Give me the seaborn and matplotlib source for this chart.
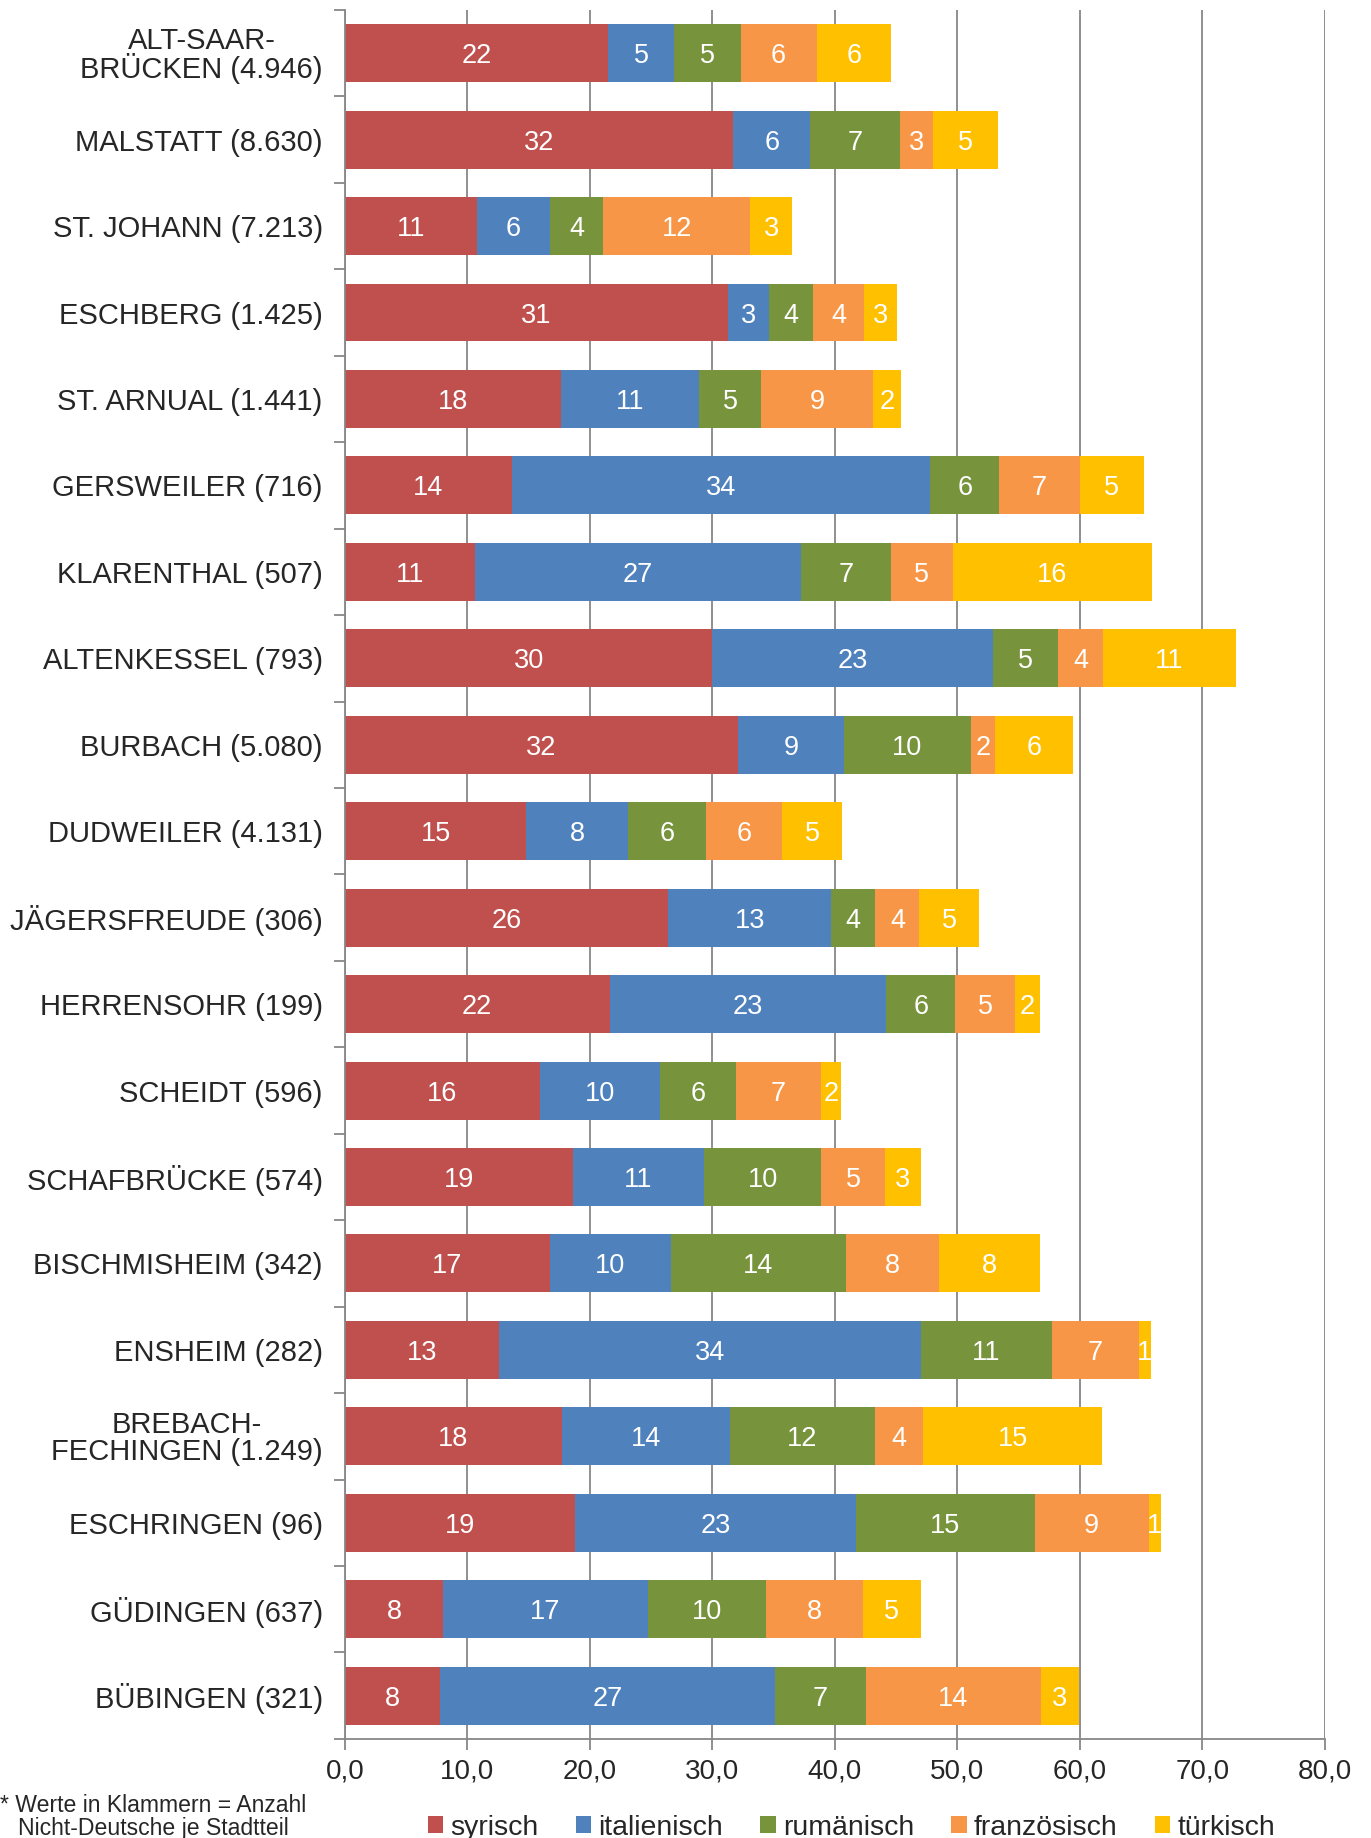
import numpy as np
import pandas as pd
import matplotlib
matplotlib.use("Agg")
import matplotlib.pyplot as plt
from matplotlib.patches import Patch
import seaborn as sns

districts = ["ALT-SAAR-\nBRÜCKEN (4.946)", "MALSTATT (8.630)", "ST. JOHANN (7.213)",
             "ESCHBERG (1.425)", "ST. ARNUAL (1.441)", "GERSWEILER (716)",
             "KLARENTHAL (507)", "ALTENKESSEL (793)", "BURBACH (5.080)",
             "DUDWEILER (4.131)", "JÄGERSFREUDE (306)", "HERRENSOHR (199)",
             "SCHEIDT (596)", "SCHAFBRÜCKE (574)", "BISCHMISHEIM (342)",
             "ENSHEIM (282)", "BREBACH-\nFECHINGEN (1.249)", "ESCHRINGEN (96)",
             "GÜDINGEN (637)", "BÜBINGEN (321)"]

syrisch = [21.5, 31.7, 10.8, 31.3, 17.6, 13.6, 10.6, 30.0, 32.1, 14.8,
           26.4, 21.6, 15.9, 18.6, 16.7, 12.6, 17.7, 18.8, 8.0, 7.8]
italienisch = [5.4, 6.3, 5.9, 3.3, 11.3, 34.2, 26.6, 22.9, 8.6, 8.3,
               13.3, 22.6, 9.8, 10.7, 9.9, 34.4, 13.7, 22.9, 16.7, 27.3]
rumaenisch = [5.4, 7.3, 4.4, 3.6, 5.1, 5.6, 7.4, 5.3, 10.4, 6.4,
              3.6, 5.6, 6.2, 9.6, 14.3, 10.7, 11.9, 14.6, 9.7, 7.4]
franzoesisch = [6.2, 2.7, 12.0, 4.2, 9.1, 6.6, 5.0, 3.7, 2.0, 6.2,
                3.6, 4.9, 7.0, 5.2, 7.6, 7.1, 3.9, 9.3, 7.9, 14.3]
tuerkisch = [6.1, 5.3, 3.4, 2.7, 2.3, 5.2, 16.3, 10.8, 6.3, 4.9,
             4.9, 2.0, 1.6, 2.9, 8.2, 1.0, 14.6, 1.0, 4.7, 3.1]

series_names = ["syrisch", "italienisch", "rumänisch", "französisch", "türkisch"]
colors = ["#C0504D", "#4F81BD", "#77933C", "#F79646", "#FFC000"]

df = pd.DataFrame({"district": districts, "syrisch": syrisch, "italienisch": italienisch,
                   "rumänisch": rumaenisch, "französisch": franzoesisch, "türkisch": tuerkisch})
cum = df[series_names].cumsum(axis=1)

sns.set_style("white")
plt.rcParams["font.family"] = ["Liberation Sans", "DejaVu Sans"]

fig = plt.figure(figsize=(13.71, 18.38), dpi=100)
ax = fig.add_axes([0.2516, 0.0539, 0.7148, 0.9407])

# stacked bars: draw cumulative totals from the last series backwards
for name, col in reversed(list(zip(series_names, colors))):
    sns.barplot(x=cum[name], y=df["district"], color=col, orient="h", width=0.67,
                saturation=1, ax=ax, linewidth=0)

# segment labels
for i in range(len(df)):
    left = 0
    for name in series_names:
        v = df[name][i]
        ax.text(left + v / 2, i, "%.0f" % v, ha="center", va="center_baseline",
                color="white", fontsize=19.5)
        left += v

ax.set_xlim(0, 80)
ax.set_ylim(len(df) - 0.5, -0.5)
ax.set_xticks(np.arange(0, 81, 10))
ax.set_xticklabels(["%d,0" % t for t in range(0, 81, 10)], fontsize=20)
ax.set_xlabel("")
ax.set_ylabel("")
ax.set_yticks(range(len(df)))
ax.set_yticklabels(districts, fontsize=21, ma="center", linespacing=0.95)
ax.set_yticks(np.arange(-0.5, len(df), 1), minor=True)
ax.tick_params(axis="y", which="major", length=0, pad=16)
ax.tick_params(axis="y", which="minor", length=8, width=1.3, color="#878787", left=True)
ax.tick_params(axis="x", length=8, width=1.3, color="#878787", bottom=True, pad=6)

ax.grid(axis="x", color="#878787", linewidth=1.3)
ax.set_axisbelow(True)
for s in ["top", "right"]:
    ax.spines[s].set_visible(False)
for s in ["left", "bottom"]:
    ax.spines[s].set_color("#878787")
    ax.spines[s].set_linewidth(1.3)

handles = [Patch(facecolor=c, edgecolor="none") for c in colors]
fig.legend(handles, series_names, loc="center", bbox_to_anchor=(0.621, 0.0055),
           ncol=5, frameon=False, fontsize=20.5, handlelength=0.55, handleheight=0.55,
           handletextpad=0.25, columnspacing=1.3, borderpad=0)

fig.text(0.0, 1 - 1806 / 1838, "* Werte in Klammern = Anzahl", fontsize=16.6, va="center")
fig.text(18 / 1371, 1 - 1828 / 1838, "Nicht-Deutsche je Stadtteil", fontsize=16.6, va="center")

fig.savefig("out.png", dpi=100)
